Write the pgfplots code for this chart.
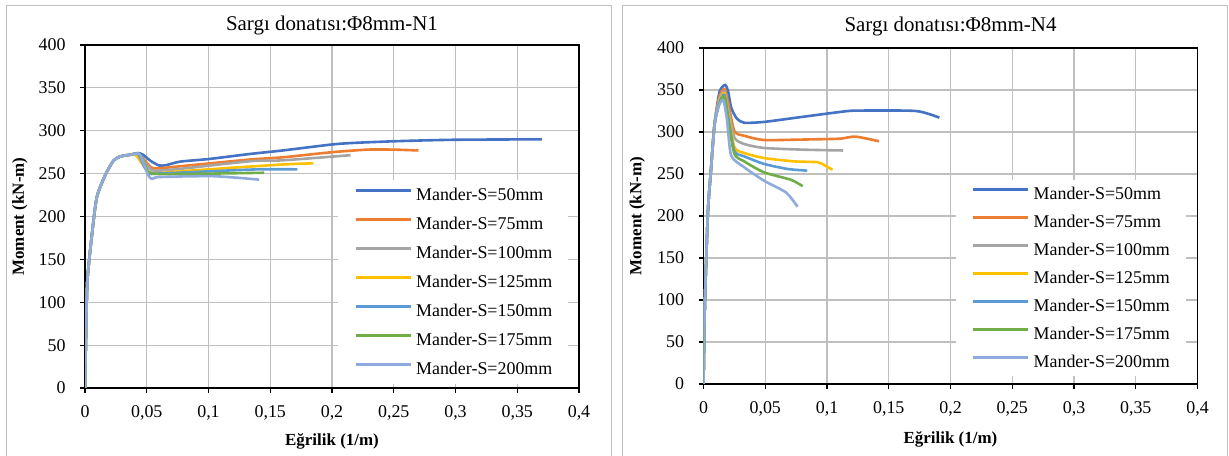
\documentclass[border=0pt]{standalone}
\usepackage{fontspec}
\setmainfont{Liberation Serif}
\usepackage{pgfplots}
\pgfplotsset{compat=1.18}
\definecolor{c1}{HTML}{4472C4}
\definecolor{c2}{HTML}{ED7D31}
\definecolor{c3}{HTML}{A5A5A5}
\definecolor{c4}{HTML}{FFC000}
\definecolor{c5}{HTML}{5B9BD5}
\definecolor{c6}{HTML}{70AD47}
\definecolor{c7}{HTML}{8FAADC}
\definecolor{gridc}{HTML}{BFBFBF}
\pgfplotsset{
  mylegimg/.style={legend image code/.code={\draw[##1,line width=3bp] (0bp,4.5bp) -- (55bp,4.5bp);}},
  myaxis/.style={
    scale only axis,
    xmin=0, xmax=0.4, ymin=0, ymax=400,
    xtick={0,0.05,0.1,0.15,0.2,0.25,0.3,0.35,0.4}, ytick={0,50,100,150,200,250,300,350,400},
    scaled x ticks=false,
    grid=major,
    major grid style={gridc, line width=1.1bp},
    axis line style={black, line width=1.6bp},
    tick style={black, line width=1.2bp},
    tick align=outside, tick pos=left,
    major tick length=5bp,
    every tick label/.append style={font=\fontsize{18}{20}\selectfont},
    xticklabel style={/pgf/number format/use comma,/pgf/number format/fixed,/pgf/number format/precision=2,/pgf/number format/assume math mode=true, yshift=-9bp},
    yticklabel style={/pgf/number format/assume math mode=true,/pgf/number format/1000 sep={}, xshift=-11bp},
    title style={font=\fontsize{21}{24}\selectfont, anchor=center},
    label style={font=\fontsize{17}{19}\selectfont\bfseries},
    xlabel={Eğrilik (1/m)},
    ylabel={Moment (kN-m)},
    every axis plot/.append style={line width=2.6bp, smooth, tension=0.4},
    mylegimg,
    legend cell align=left,
    legend style={draw=none, fill=white, inner xsep=16bp, inner ysep=7bp, row sep=13bp,
      nodes={inner sep=0pt, text height=13bp, text depth=3bp},
      font=\fontsize{18}{20}\selectfont, anchor=north west},
    /tikz/every odd column/.append style={column sep=4bp},
  }
}
\begin{document}
\begin{tikzpicture}
\useasboundingbox (0bp,0bp) rectangle (1229bp,456bp);
\draw[gridc, line width=1bp] (6bp,-3bp) rectangle (611bp,450bp);
\draw[gridc, line width=1bp] (622bp,-3bp) rectangle (1227bp,450bp);
\begin{axis}[myaxis, at={(85bp,68bp)}, anchor=south west, width=494bp, height=343bp,
  title={Sargı donatısı:Φ8mm-N1},
  title style={at={(axis description cs:0.5,1.04)}},
  xlabel style={at={(axis description cs:0.5,-0.155)}, anchor=center},
  ylabel style={at={(axis description cs:-0.132,0.5)}, anchor=center},
  legend style={at={(axis description cs:0.512,0.607)}}]
\addplot[c1] coordinates {(0,0)(0.0008,60)(0.0019,125)(0.0054,176)(0.0095,222)(0.0163,248)(0.023,265)(0.0285,270)(0.0366,272)(0.043,274)(0.047,272)(0.053,265)(0.06,259.5)(0.066,260)(0.077,264)(0.1,267)(0.134,273)(0.16,277)(0.2,284)(0.22,286)(0.256,288)(0.3,289.5)(0.37,290)};
\addplot[c2] coordinates {(0,0)(0.0008,60)(0.0019,125)(0.0054,176)(0.0095,222)(0.0163,248)(0.023,265)(0.0285,270)(0.0366,272)(0.043,273)(0.048,266)(0.053,258)(0.058,256)(0.08,259)(0.134,266.5)(0.16,269)(0.2,275)(0.229,278)(0.25,278)(0.27,277)};
\addplot[c3] coordinates {(0,0)(0.0008,60)(0.0019,125)(0.0054,176)(0.0095,222)(0.0163,248)(0.023,265)(0.0285,270)(0.0366,272)(0.043,273)(0.049,262)(0.054,254)(0.06,253.5)(0.08,256)(0.134,264.5)(0.16,265.5)(0.215,271.5)};
\addplot[c4] coordinates {(0,0)(0.0008,60)(0.0019,125)(0.0054,176)(0.0095,222)(0.0163,248)(0.023,265)(0.0285,270)(0.0366,272)(0.041,272)(0.047,260)(0.052,251)(0.057,250)(0.08,253)(0.158,260.5)(0.185,262)};
\addplot[c5] coordinates {(0,0)(0.0008,60)(0.0019,125)(0.0054,176)(0.0095,222)(0.0163,248)(0.023,265)(0.0285,270)(0.0366,272)(0.043,273)(0.048,258)(0.052,250)(0.058,250)(0.09,252)(0.14,255)(0.172,255)};
\addplot[c6] coordinates {(0,0)(0.0008,60)(0.0019,125)(0.0054,176)(0.0095,222)(0.0163,248)(0.023,265)(0.0285,270)(0.0366,272)(0.044,273)(0.048,262)(0.0515,252)(0.06,249.5)(0.1,250)(0.145,251)};
\addplot[c7] coordinates {(0,0)(0.0008,60)(0.0019,125)(0.0054,176)(0.0095,222)(0.0163,248)(0.023,265)(0.0285,270)(0.0366,272)(0.044,273)(0.048,260)(0.052,246)(0.055,244)(0.06,246)(0.104,247)(0.141,243)};
\legend{Mander-S=50mm,Mander-S=75mm,Mander-S=100mm,Mander-S=125mm,Mander-S=150mm,Mander-S=175mm,Mander-S=200mm}
\end{axis}
\begin{axis}[myaxis, at={(703.5bp,72bp)}, anchor=south west, width=494bp, height=336bp,
  title={Sargı donatısı:Φ8mm-N4},
  title style={at={(axis description cs:0.5,1.045)}},
  xlabel style={at={(axis description cs:0.5,-0.165)}, anchor=center},
  ylabel style={at={(axis description cs:-0.134,0.5)}, anchor=center},
  legend style={at={(axis description cs:0.51,0.607)}, row sep=12bp, inner ysep=6bp}]
\addplot[c1] coordinates {(0,0)(0.001,90)(0.0035,203)(0.006,254)(0.009,310)(0.013,348)(0.0175,356)(0.02,348)(0.0224,329)(0.027,316)(0.033,311)(0.049,312)(0.08,318)(0.114,324.5)(0.126,325.5)(0.172,325)(0.191,317)};
\addplot[c2] coordinates {(0,0)(0.001,90)(0.0035,203)(0.006,254)(0.009,310)(0.013,343)(0.017,351)(0.02,335)(0.025,301)(0.033,295.5)(0.049,290.5)(0.08,291)(0.11,292)(0.123,294.5)(0.142,289)};
\addplot[c3] coordinates {(0,0)(0.001,90)(0.0035,203)(0.006,254)(0.009,310)(0.013,340)(0.017,348)(0.02,328)(0.025,293.5)(0.033,285.7)(0.049,281)(0.08,279)(0.113,278)};
\addplot[c4] coordinates {(0,0)(0.001,90)(0.0035,203)(0.006,254)(0.009,310)(0.013,338)(0.017,346)(0.02,322)(0.025,282)(0.033,275)(0.049,269)(0.0735,265)(0.0924,264)(0.0985,260)(0.1045,255)};
\addplot[c5] coordinates {(0,0)(0.001,90)(0.0035,203)(0.006,254)(0.009,310)(0.013,336)(0.017,344)(0.02,318)(0.025,277.5)(0.033,271)(0.049,262)(0.068,256)(0.084,254)};
\addplot[c6] coordinates {(0,0)(0.001,90)(0.0035,203)(0.006,254)(0.009,310)(0.013,334)(0.017,342)(0.02,315)(0.025,274)(0.033,265)(0.049,252)(0.071,243)(0.0803,235.5)};
\addplot[c7] coordinates {(0,0)(0.001,90)(0.0035,203)(0.006,254)(0.009,308)(0.012,330)(0.016,338)(0.019,315)(0.0224,272)(0.033,258)(0.049,242)(0.0668,228)(0.0762,211)};
\legend{Mander-S=50mm,Mander-S=75mm,Mander-S=100mm,Mander-S=125mm,Mander-S=150mm,Mander-S=175mm,Mander-S=200mm}
\end{axis}
\end{tikzpicture}
\end{document}
